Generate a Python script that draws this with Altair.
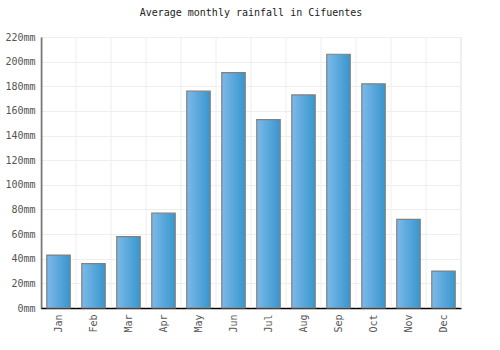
import altair as alt
import pandas as pd

months = ["Jan", "Feb", "Mar", "Apr", "May", "Jun", "Jul", "Aug", "Sep", "Oct", "Nov", "Dec"]
rainfall = [43, 36, 58, 77, 176, 191, 153, 173, 206, 182, 72, 30]
y_ticks = [0, 20, 40, 60, 80, 100, 120, 140, 160, 180, 200, 220]

df = pd.DataFrame({"month": months, "rain": rainfall})

FONT = "DejaVu Sans Mono"
STEP = 35
PAD = 0.33

xscale = alt.Scale(domain=months, paddingInner=PAD, paddingOuter=PAD / 2)
yscale = alt.Scale(domain=[0, 220], nice=False)

xaxis = alt.Axis(labelAngle=270, labelFont=FONT, labelFontSize=10,
                 labelColor="#555555", ticks=False, grid=False,
                 domainColor="#000000", domainWidth=1.5, labelPadding=6,
                 labelAlign="right", labelBaseline="middle")
yaxis = alt.Axis(values=y_ticks, labelExpr="datum.value + 'mm'",
                 labelFont=FONT, labelFontSize=10, labelColor="#555555",
                 ticks=False, gridColor="#eeeeee", domainColor="#000000",
                 domainWidth=1.5, labelPadding=6)

vgrid = alt.Chart(df).mark_rule(color="#eeeeee", strokeWidth=1).encode(
    x=alt.X("month:N", scale=xscale, bandPosition=0, axis=xaxis, sort=months, title=None),
    xOffset=alt.value(-PAD * STEP / 2),
)
vgrid_end = alt.Chart(df).mark_rule(color="#eeeeee", strokeWidth=1).encode(
    x=alt.value(420)
)

bars = alt.Chart(df).mark_bar(
    color=alt.Gradient(
        gradient="linear",
        stops=[alt.GradientStop(color="#7db9ea", offset=0),
               alt.GradientStop(color="#3796cd", offset=1)],
        x1=0, x2=1, y1=0, y2=0,
    ),
    stroke="#808080",
    strokeWidth=1.2,
).encode(
    x=alt.X("month:N", scale=xscale, sort=months, title=None, axis=xaxis),
    y=alt.Y("rain:Q", scale=yscale, title=None, axis=yaxis),
)

chart = alt.layer(vgrid, vgrid_end, bars).properties(
    width=420,
    height=271,
    title=alt.TitleParams("Average monthly rainfall in Cifuentes", font=FONT,
                          fontSize=10, fontWeight="normal", color="#222222",
                          offset=14),
    autosize=alt.AutoSizeParams(type="none"),
    padding={"left": 41, "top": 37, "right": 39, "bottom": 42},
).configure_view(stroke=None)

chart.save("out.html", embed_options={"renderer": "svg", "actions": False})
